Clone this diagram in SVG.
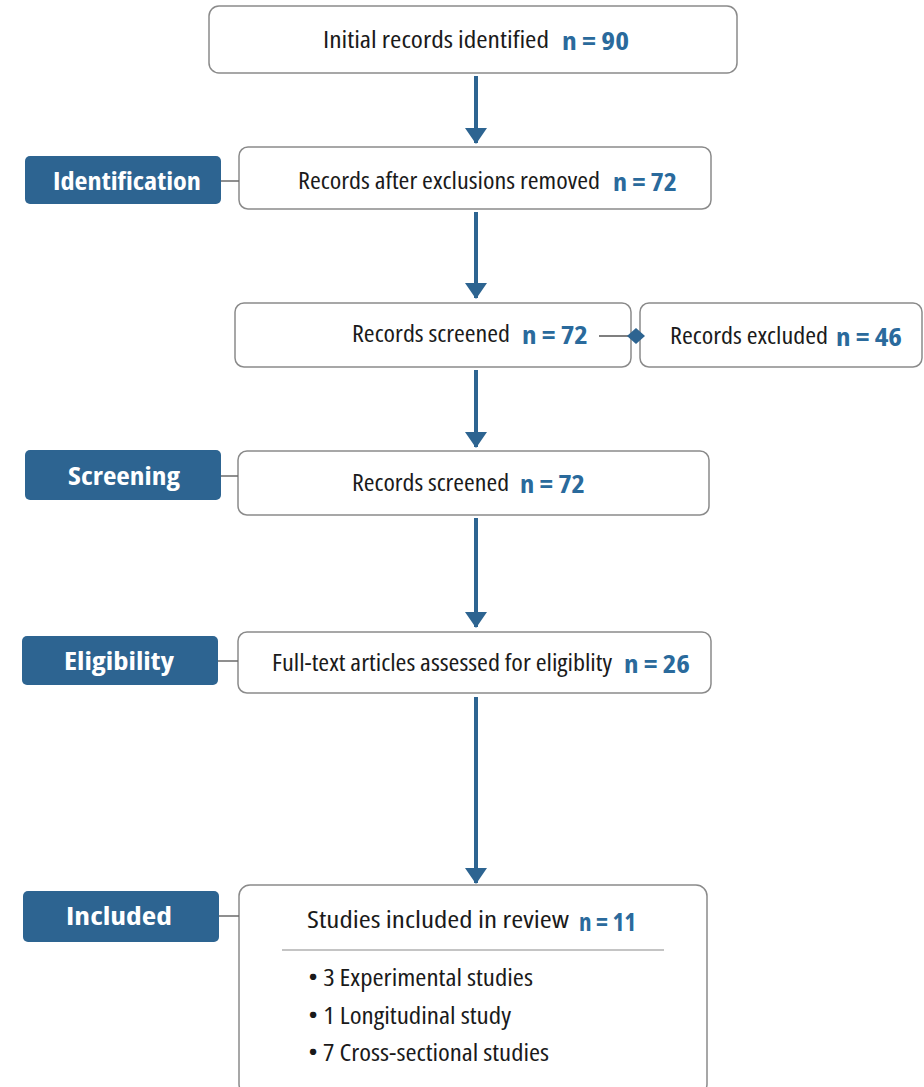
<svg xmlns="http://www.w3.org/2000/svg" width="924" height="1087" viewBox="0 0 924 1087">
<defs>
<marker id="ah" markerUnits="userSpaceOnUse" markerWidth="16" markerHeight="22" refX="15" refY="11" orient="auto" viewBox="0 0 16 22">
<path d="M0,0 L16,11 L0,22 Z" fill="#2d6491"/>
</marker>
</defs>
<style>
.box{fill:#fff;stroke:#8a8a8a;stroke-width:1.5}
.lab{fill:#2d6491}
.lt{font-family:"Open Sans","Liberation Sans",sans-serif;font-weight:bold;font-size:25px;font-stretch:75%;fill:#fff}
.t{font-family:"Open Sans","Liberation Sans",sans-serif;font-size:23px;font-stretch:75%;fill:#1a1a1a}
.n{font-family:"Open Sans","Liberation Sans",sans-serif;font-weight:bold;font-size:25px;font-stretch:75%;fill:#2a6a9c}
.arr{stroke:#2d6491;stroke-width:4;fill:none}
.tick{stroke:#6a6a6a;stroke-width:1.5}
</style>
<rect width="924" height="1087" fill="#fff"/>
<g id="n1">
<rect class="box" x="209" y="6" width="528" height="67" rx="10"/>
<text class="t" x="323" y="48" textLength="226" lengthAdjust="spacingAndGlyphs">Initial records identified</text>
<text class="n" x="562" y="50" textLength="67" lengthAdjust="spacingAndGlyphs">n = 90</text>
</g>
<g id="identification">
<rect class="lab" x="25" y="156" width="196" height="48" rx="5"/>
<text class="lt" x="53" y="190" textLength="148" lengthAdjust="spacingAndGlyphs">Identification</text>
</g>
<g id="n2">
<rect class="box" x="239" y="147" width="472" height="62" rx="9"/>
<text class="t" x="298" y="189" textLength="302" lengthAdjust="spacingAndGlyphs">Records after exclusions removed</text>
<text class="n" x="613" y="191" textLength="64" lengthAdjust="spacingAndGlyphs">n = 72</text>
</g>
<g id="n3">
<rect class="box" x="235" y="303" width="396" height="64" rx="9"/>
<text class="t" x="352" y="342" textLength="158" lengthAdjust="spacingAndGlyphs">Records screened</text>
<text class="n" x="522" y="344" textLength="66" lengthAdjust="spacingAndGlyphs">n = 72</text>
</g>
<g id="n4">
<rect class="box" x="640" y="303" width="282" height="64" rx="9"/>
<text class="t" x="670" y="344" textLength="158" lengthAdjust="spacingAndGlyphs">Records excluded</text>
<text class="n" x="836" y="346" textLength="66" lengthAdjust="spacingAndGlyphs">n = 46</text>
</g>
<g id="screening">
<rect class="lab" x="25" y="450" width="196" height="50" rx="5"/>
<text class="lt" x="68" y="485" textLength="112" lengthAdjust="spacingAndGlyphs">Screening</text>
</g>
<g id="n5">
<rect class="box" x="238" y="451" width="471" height="64" rx="9"/>
<text class="t" x="352" y="491" textLength="157" lengthAdjust="spacingAndGlyphs">Records screened</text>
<text class="n" x="520" y="493" textLength="65" lengthAdjust="spacingAndGlyphs">n = 72</text>
</g>
<g id="eligibility">
<rect class="lab" x="22" y="636" width="196" height="49" rx="5"/>
<text class="lt" x="64" y="670" textLength="110" lengthAdjust="spacingAndGlyphs">Eligibility</text>
</g>
<g id="n6">
<rect class="box" x="238" y="632" width="473" height="61" rx="9"/>
<text class="t" x="272" y="671" textLength="340" lengthAdjust="spacingAndGlyphs">Full-text articles assessed for eligiblity</text>
<text class="n" x="624" y="673" textLength="66" lengthAdjust="spacingAndGlyphs">n = 26</text>
</g>
<g id="included">
<rect class="lab" x="23" y="891" width="196" height="51" rx="5"/>
<text class="lt" x="66" y="925" textLength="106" lengthAdjust="spacingAndGlyphs">Included</text>
</g>
<g id="n7">
<rect class="box" x="239" y="885" width="468" height="210" rx="11"/>
<text class="t" x="307" y="928" textLength="262" lengthAdjust="spacingAndGlyphs">Studies included in review</text>
<text class="n" x="579" y="931" textLength="57" lengthAdjust="spacingAndGlyphs">n = 11</text>
<line x1="282" y1="950" x2="664" y2="950" stroke="#b0b0b0" stroke-width="1.5"/>
<text class="t" x="308" y="986" textLength="225" lengthAdjust="spacingAndGlyphs">• 3 Experimental studies</text>
<text class="t" x="308" y="1024" textLength="203" lengthAdjust="spacingAndGlyphs">• 1 Longitudinal study</text>
<text class="t" x="308" y="1061" textLength="241" lengthAdjust="spacingAndGlyphs">• 7 Cross-sectional studies</text>
</g>
<g id="connectors">
<line class="arr" x1="476" y1="76" x2="476" y2="143" marker-end="url(#ah)"/>
<line class="arr" x1="476" y1="212" x2="476" y2="298" marker-end="url(#ah)"/>
<line class="arr" x1="476" y1="370" x2="476" y2="447" marker-end="url(#ah)"/>
<line class="arr" x1="476" y1="518" x2="476" y2="627" marker-end="url(#ah)"/>
<line class="arr" x1="476" y1="697" x2="476" y2="883" marker-end="url(#ah)"/>
<line x1="599" y1="336" x2="630" y2="336" stroke="#555" stroke-width="1.5"/>
<path d="M627,336 L636,328 L645,336 L636,344 Z" fill="#2d6491"/>
<line class="tick" x1="221" y1="181" x2="239" y2="181"/>
<line class="tick" x1="221" y1="476" x2="238" y2="476"/>
<line class="tick" x1="218" y1="661" x2="238" y2="661"/>
<line class="tick" x1="219" y1="916" x2="239" y2="916"/>
</g>
</svg>
